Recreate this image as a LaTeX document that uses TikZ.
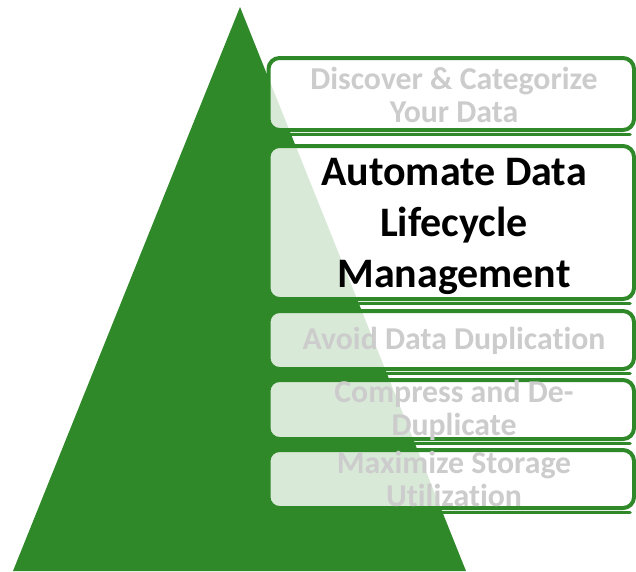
\documentclass[tikz,border=0pt]{standalone}
\usepackage{fontspec}
\setmainfont{Carlito}[Ligatures=NoCommon]
\usepackage{xcolor}
\usetikzlibrary{positioning, calc}

\definecolor{pyrGreen}{RGB}{47,137,41}
\definecolor{fadeGray}{RGB}{204,204,204}

\begin{document}
\begin{tikzpicture}[x=1pt, y=-1pt,
    stage/.style={
        rectangle, rounded corners=11pt, draw=pyrGreen, line width=4pt,
        fill=white, fill opacity=0.82, minimum width=365.5pt,
        minimum height=#1, inner sep=0pt, outer sep=0pt
    },
    drop/.style={pyrGreen, line width=3.5pt, line cap=round},
    dim/.style={
        font=\bfseries\fontsize{31.8}{33}\selectfont, text=fadeGray,
        align=center, inner sep=0pt
    },
    lit/.style={
        font=\bfseries\fontsize{42}{51}\selectfont, text=black,
        align=center, inner sep=0pt
    }
]
\useasboundingbox (0,0) rectangle (636,571);

% Pyramid
\coordinate (apex) at (240,7);
\coordinate (baseR) at (466,571);
\coordinate (baseL) at (13,571);
\fill[pyrGreen] (apex) -- (baseR) -- (baseL) -- cycle;

% Stage boxes
\node[stage=72pt]  (discover) at (451.25,94) {};
\node[stage=153pt] (automate) at (451.25,222.5) {};
\node[stage=58pt]  (avoid)    at (451.25,340) {};
\node[stage=59pt]  (compress) at (451.25,409.5) {};
\node[stage=58pt]  (maximize) at (451.25,479) {};

% Green drop lines under the boxes
\foreach \b in {discover, automate, avoid, compress, maximize}
    \draw[drop] ($(\b.south west)+(12,4.5)$) -- ($(\b.south east)+(-4,4.5)$);

% Stage labels
\node[dim] (discoverTxt) at (454,94.5) {Discover \& Categorize\\Your Data};
\node[lit] (automateTxt) at (454,226) {Automate Data\\Lifecycle\\Management};
\node[dim] (avoidTxt)    at (454,340.5) {Avoid Data Duplication};
\node[dim] (compressTxt) at (454,410.5) {Compress and De-\\Duplicate};
\node[dim] (maximizeTxt) at (454,478.5) {Maximize Storage\\Utilization};

\end{tikzpicture}
\end{document}
